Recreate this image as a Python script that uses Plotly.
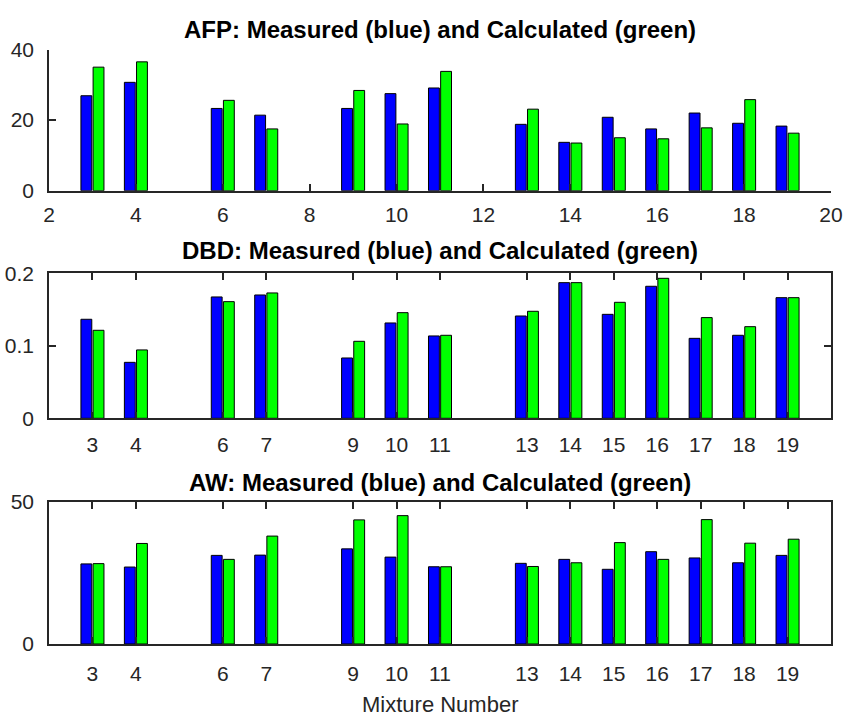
import plotly.graph_objects as go

mixtures = [3, 4, 6, 7, 9, 10, 11, 13, 14, 15, 16, 17, 18, 19]

afp_measured = [26.9, 30.7, 23.3, 21.4, 23.3, 27.5, 29.1, 18.8, 13.7, 20.8, 17.5, 22.0, 19.1, 18.3]
afp_calculated = [35.0, 36.5, 25.6, 17.5, 28.4, 18.9, 33.8, 23.1, 13.5, 15.0, 14.7, 17.8, 25.8, 16.3]

dbd_measured = [0.1366, 0.0772, 0.1674, 0.1701, 0.0832, 0.1315, 0.1136, 0.1411, 0.1871, 0.1434, 0.1821, 0.1103, 0.1145, 0.1664]
dbd_calculated = [0.1214, 0.0943, 0.1609, 0.1729, 0.1062, 0.1457, 0.1145, 0.1476, 0.1871, 0.1600, 0.1931, 0.1389, 0.1264, 0.1664]

aw_measured = [28.2, 27.1, 31.2, 31.3, 33.5, 30.6, 27.2, 28.4, 29.8, 26.3, 32.5, 30.3, 28.6, 31.2]
aw_calculated = [28.3, 35.4, 29.8, 38.0, 43.7, 45.2, 27.2, 27.3, 28.6, 35.7, 29.8, 43.8, 35.5, 36.9]

panel_titles = ["AFP: Measured (blue) and Calculated (green)",
                "DBD: Measured (blue) and Calculated (green)",
                "AW: Measured (blue) and Calculated (green)"]
top_xticks = [2, 4, 6, 8, 10, 12, 14, 16, 18, 20]
afp_yticks = [0, 20, 40]
dbd_yticks = [0, 0.1, 0.2]
dbd_yticklabels = ["0", "0.1", "0.2"]
aw_yticks = [0, 50]
x_title = "Mixture Number"

W, H = 844, 717
FONT = "Liberation Sans, Arial, Helvetica, sans-serif"
AXC = "#262626"

def py(pix):
    return 1 - pix / H

xdom = [49 / W, 831 / W]
panels = [
    (afp_measured, afp_calculated, "x", "y"),
    (dbd_measured, dbd_calculated, "x2", "y2"),
    (aw_measured, aw_calculated, "x3", "y3"),
]

fig = go.Figure()
for meas, calc, xa, ya in panels:
    fig.add_trace(go.Bar(x=mixtures, y=meas, xaxis=xa, yaxis=ya, width=0.25, offset=-0.265,
                         marker=dict(color="#0000FF", line=dict(color="#000000", width=1)),
                         showlegend=False))
    fig.add_trace(go.Bar(x=mixtures, y=calc, xaxis=xa, yaxis=ya, width=0.25, offset=0.015,
                         marker=dict(color="#00FF00", line=dict(color="#000000", width=1)),
                         showlegend=False))

common_ax = dict(showgrid=False, zeroline=False, showline=True, linecolor=AXC, linewidth=1.5,
                 ticks="inside", ticklen=7, tickwidth=1.5, tickcolor=AXC,
                 tickfont=dict(family=FONT, size=21, color=AXC), automargin=False)

fig.update_layout(
    width=W, height=H, margin=dict(l=0, r=0, t=0, b=0),
    paper_bgcolor="white", plot_bgcolor="white", barmode="overlay",
    xaxis=dict(common_ax, domain=xdom, anchor="y", range=[2, 20], tickmode="array",
               tickvals=top_xticks, ticklabelstandoff=4),
    yaxis=dict(common_ax, domain=[py(190.7), py(49.5)], anchor="x", range=[0, 40],
               tickmode="array", tickvals=afp_yticks, ticklabelstandoff=9),
    xaxis2=dict(common_ax, domain=xdom, anchor="y2", range=[2, 20], tickmode="array",
                tickvals=mixtures, mirror="ticks", ticklabelstandoff=7),
    yaxis2=dict(common_ax, domain=[py(418.3), py(273.3)], anchor="x2", range=[0, 0.2],
                tickmode="array", tickvals=dbd_yticks, ticktext=dbd_yticklabels,
                mirror="ticks", ticklabelstandoff=9),
    xaxis3=dict(common_ax, domain=xdom, anchor="y3", range=[2, 20], tickmode="array",
                tickvals=mixtures, mirror="ticks", ticklabelstandoff=10),
    yaxis3=dict(common_ax, domain=[py(644), py(502)], anchor="x3", range=[0, 50],
                tickmode="array", tickvals=aw_yticks, mirror="ticks", ticklabelstandoff=9),
)

title_y = [29, 250, 482]
for t, yp in zip(panel_titles, title_y):
    fig.add_annotation(text="<b>%s</b>" % t, x=0.5 * (xdom[0] + xdom[1]), y=py(yp),
                       xref="paper", yref="paper", showarrow=False,
                       xanchor="center", yanchor="middle",
                       font=dict(family=FONT, size=24, color="#000000"))

fig.add_annotation(text=x_title, x=0.5 * (xdom[0] + xdom[1]), y=py(704), xref="paper", yref="paper",
                   showarrow=False, xanchor="center", yanchor="middle",
                   font=dict(family=FONT, size=22, color=AXC))

fig.write_html("out.html")
